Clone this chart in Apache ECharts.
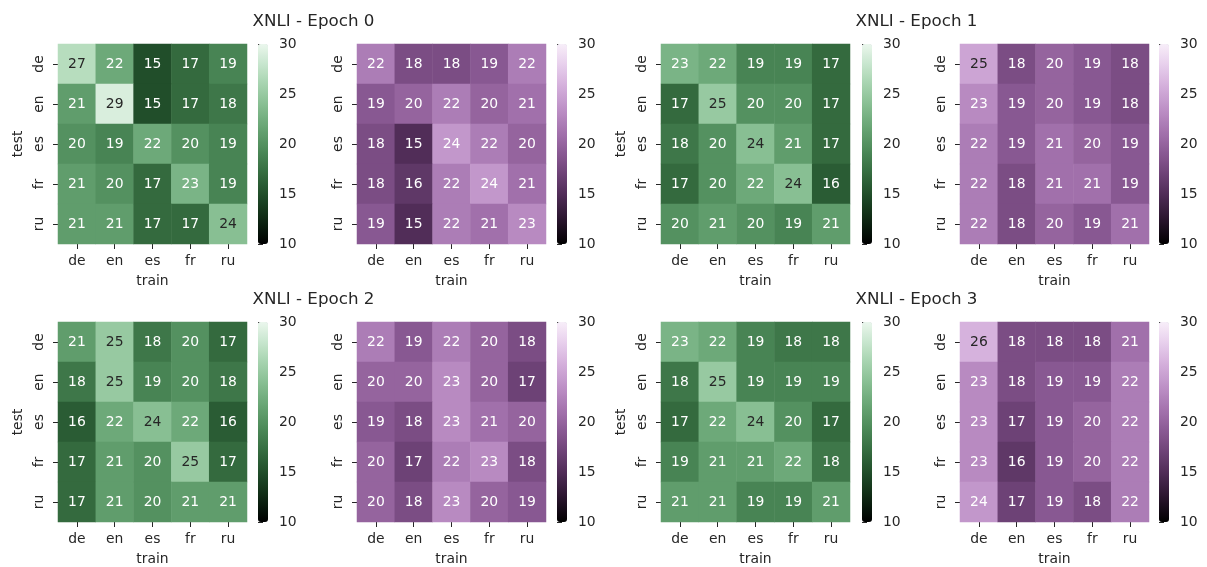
<!DOCTYPE html>
<html><head><meta charset="utf-8">
<script src="https://cdn.jsdelivr.net/npm/echarts@6/dist/echarts.min.js"></script>
<style>html,body{margin:0;padding:0;background:#fff}#c{width:1207px;height:567px}</style>
</head><body><div id="c"></div>
<script>
// ---------- data ----------
const langs = ['de', 'en', 'es', 'fr', 'ru'];          // rows = test, columns = train
const colorbarTicks = [10, 15, 20, 25, 30];
const titles = ['XNLI - Epoch 0', 'XNLI - Epoch 1', 'XNLI - Epoch 2', 'XNLI - Epoch 3'];
const xLabel = 'train';
const yLabel = 'test';

const epoch0Green = [
  [27, 22, 15, 17, 19],
  [21, 29, 15, 17, 18],
  [20, 19, 22, 20, 19],
  [21, 20, 17, 23, 19],
  [21, 21, 17, 17, 24]
];
const epoch0Purple = [
  [22, 18, 18, 19, 22],
  [19, 20, 22, 20, 21],
  [18, 15, 24, 22, 20],
  [18, 16, 22, 24, 21],
  [19, 15, 22, 21, 23]
];
const epoch1Green = [
  [23, 22, 19, 19, 17],
  [17, 25, 20, 20, 17],
  [18, 20, 24, 21, 17],
  [17, 20, 22, 24, 16],
  [20, 21, 20, 19, 21]
];
const epoch1Purple = [
  [25, 18, 20, 19, 18],
  [23, 19, 20, 19, 18],
  [22, 19, 21, 20, 19],
  [22, 18, 21, 21, 19],
  [22, 18, 20, 19, 21]
];
const epoch2Green = [
  [21, 25, 18, 20, 17],
  [18, 25, 19, 20, 18],
  [16, 22, 24, 22, 16],
  [17, 21, 20, 25, 17],
  [17, 21, 20, 21, 21]
];
const epoch2Purple = [
  [22, 19, 22, 20, 18],
  [20, 20, 23, 20, 17],
  [19, 18, 23, 21, 20],
  [20, 17, 22, 23, 18],
  [20, 18, 23, 20, 19]
];
const epoch3Green = [
  [23, 22, 19, 18, 18],
  [18, 25, 19, 19, 19],
  [17, 22, 24, 20, 17],
  [19, 21, 21, 22, 18],
  [21, 21, 19, 19, 21]
];
const epoch3Purple = [
  [26, 18, 18, 18, 21],
  [23, 18, 19, 19, 22],
  [23, 17, 19, 20, 22],
  [23, 16, 19, 20, 22],
  [24, 17, 19, 18, 22]
];

// ---------- colour maps (cubehelix, dark=0, light=.95, reversed) ----------
function cubehelix(start, rot, hue) {
  return function (x) {
    const a = hue * x * (1 - x) / 2;
    const phi = 2 * Math.PI * (start / 3 + rot * x);
    const c = Math.cos(phi), s = Math.sin(phi);
    return [
      x + a * (-0.14861 * c + 1.78277 * s),
      x + a * (-0.29227 * c - 0.90649 * s),
      x + a * (1.97294 * c)
    ].map(v => Math.min(1, Math.max(0, v)));
  };
}
const cmaps = {
  green: cubehelix(2, 0, 0.8),
  purple: cubehelix(0.35, 0, 0.8)
};
const VMIN = 10, VMAX = 30, LIGHT = 0.95;
function rgbOf(cmap, v) {
  const t = Math.min(1, Math.max(0, (v - VMIN) / (VMAX - VMIN)));
  return cmap(LIGHT * t);
}
function hex(rgb) {
  return '#' + rgb.map(c => Math.round(c * 255).toString(16).padStart(2, '0')).join('');
}
function stops(cmap) {
  const out = [];
  for (let i = 0; i <= 40; i++) out.push(hex(cmap(LIGHT * i / 40)));
  return out;
}
function textColor(rgb) {
  const lin = rgb.map(c => c <= 0.03928 ? c / 12.92 : Math.pow((c + 0.055) / 1.055, 2.4));
  const lum = 0.2126 * lin[0] + 0.7152 * lin[1] + 0.0722 * lin[2];
  return lum > 0.408 ? '#262626' : '#ffffff';
}

// ---------- layout ----------
const FONT = 'DejaVu Sans';
const FS = 13.9;
const INK = '#262626';
const rowTop = [44, 322];
const hmLeft = [58, 357, 661, 960];
const cbLeft = [258, 557, 862, 1159];
const HM_W = 189, HM_H = 200, CB_W = 10;
const titleX = [313.5, 916.5];
const titleY = [21.5, 299.5];

const panels = [
  { m: epoch0Green, cmap: 'green', col: 0, row: 0 },
  { m: epoch0Purple, cmap: 'purple', col: 1, row: 0 },
  { m: epoch1Green, cmap: 'green', col: 2, row: 0 },
  { m: epoch1Purple, cmap: 'purple', col: 3, row: 0 },
  { m: epoch2Green, cmap: 'green', col: 0, row: 1 },
  { m: epoch2Purple, cmap: 'purple', col: 1, row: 1 },
  { m: epoch3Green, cmap: 'green', col: 2, row: 1 },
  { m: epoch3Purple, cmap: 'purple', col: 3, row: 1 }
];

const grid = [], xAxis = [], yAxis = [], series = [], visualMap = [];
panels.forEach((p, i) => {
  const cm = cmaps[p.cmap];
  grid.push({ left: hmLeft[p.col], top: rowTop[p.row], width: HM_W, height: HM_H });
  grid.push({ left: cbLeft[p.col], top: rowTop[p.row], width: CB_W, height: HM_H });
  const tickStyle = { show: true, alignWithLabel: true, length: 5, lineStyle: { color: INK, width: 1 } };
  const lbl = { fontFamily: FONT, fontSize: FS, color: INK };
  xAxis.push({
    gridIndex: 2 * i, type: 'category', data: langs,
    axisLine: { show: false }, axisTick: tickStyle,
    axisLabel: Object.assign({ margin: 10 }, lbl),
    splitLine: { show: false },
    name: xLabel, nameLocation: 'middle', nameGap: 30, nameTextStyle: lbl
  });
  yAxis.push({
    gridIndex: 2 * i, type: 'category', data: langs, inverse: true,
    axisLine: { show: false }, axisTick: tickStyle,
    axisLabel: Object.assign({ margin: 12, rotate: 90 }, lbl),
    splitLine: { show: false },
    name: p.col % 2 === 0 ? yLabel : '', nameLocation: 'middle', nameGap: 33, nameTextStyle: lbl
  });
  xAxis.push({ gridIndex: 2 * i + 1, type: 'value', show: false, min: 0, max: 1 });
  yAxis.push({
    gridIndex: 2 * i + 1, type: 'value', position: 'right',
    min: colorbarTicks[0], max: colorbarTicks[colorbarTicks.length - 1], interval: 5,
    axisLine: { show: false },
    axisTick: { show: true, length: 5, lineStyle: { color: INK, width: 1 } },
    axisLabel: Object.assign({ margin: 11 }, lbl),
    splitLine: { show: false }
  });
  const data = [];
  p.m.forEach((row, r) => row.forEach((v, c) => {
    data.push({ value: [c, r, v], label: { color: textColor(rgbOf(cm, v)) } });
  }));
  series.push({
    type: 'heatmap', xAxisIndex: 2 * i, yAxisIndex: 2 * i, data: data,
    label: { show: true, fontFamily: FONT, fontSize: FS, formatter: q => String(Math.round(q.value[2])) },
    itemStyle: { borderWidth: 0 },
    emphasis: { disabled: true }
  });
  const colors = stops(cm);
  visualMap.push({
    type: 'continuous', seriesIndex: i, min: VMIN, max: VMAX, calculable: false,
    orient: 'vertical', left: cbLeft[p.col], top: rowTop[p.row],
    itemWidth: CB_W, itemHeight: HM_H, padding: 0, hoverLink: false,
    text: null, inRange: { color: colors },
    controller: { inRange: { color: colors, symbolSize: [CB_W, CB_W] } }
  });
});

const graphic = [];
titles.forEach((t, k) => {
  graphic.push({
    type: 'text', x: titleX[k % 2], y: titleY[Math.floor(k / 2)],
    style: { text: t, fontFamily: FONT, fontSize: 16.7, fill: INK, align: 'center', verticalAlign: 'middle' }
  });
});

const chart = echarts.init(document.getElementById('c'), null, { renderer: 'canvas' });
chart.setOption({
  animation: false,
  backgroundColor: '#ffffff',
  textStyle: { fontFamily: FONT },
  grid, xAxis, yAxis, series, visualMap, graphic
});
</script>
</body></html>
